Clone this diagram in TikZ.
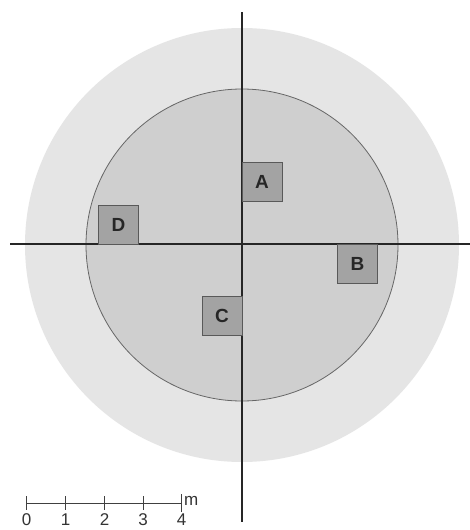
\documentclass[tikz,border=0pt]{standalone}
\usepackage{fontspec}
\setmainfont{Liberation Sans}
\begin{document}
\begin{tikzpicture}[x=1pt,y=-1pt,
  outer/.style={fill=black!10,draw=none},
  inner/.style={fill=black!19,draw=black!60,line width=0.8pt},
  axis/.style={draw=black!85,line width=1.6pt},
  plot/.style={draw=black!65,fill=black!36,line width=0.8pt,minimum width=40pt,minimum height=39pt,inner sep=0pt,font=\fontsize{19}{22}\selectfont\bfseries,text=black!85},
  scalebar/.style={draw=black!75,line width=1pt},
  lbl/.style={font=\fontsize{17}{19}\selectfont,text=black!80,inner sep=0pt}]
\useasboundingbox (0,0) rectangle (470,530);
\fill[white] (0,0) rectangle (470,530);
\coordinate (O) at (242,245);
\fill[outer] (O) circle (217);
\filldraw[inner] (O) circle (156);
\coordinate (vt) at (242,12);
\coordinate (vb) at (242,522);
\coordinate (hl) at (10,244);
\coordinate (hr) at (470,244);
\draw[axis] (vt) -- (vb);
\draw[axis] (hl) -- (hr);
\node[plot] (A) at (262,181.5) {A};
\node[plot] (D) at (118.5,224.5) {D};
\node[plot] (C) at (222,316) {C};
\node[plot] (B) at (357.5,263.5) {B};
% scale bar
\coordinate (s0) at (26.7,503);
\coordinate (s4) at (181.7,503);
\draw[scalebar] (s0) -- (s4);
\foreach \i/\xx in {0/26.7,1/65.5,2/104.5,3/143,4/181.7}{
  \draw[scalebar] (\xx,496) -- (\xx,510);
  \node[lbl] (n\i) at (\xx,519.5) {\i};
}
\draw[scalebar] (181.7,494) -- (181.7,512);
\node[lbl,anchor=west] (m) at (184,501) {m};
\end{tikzpicture}
\end{document}
